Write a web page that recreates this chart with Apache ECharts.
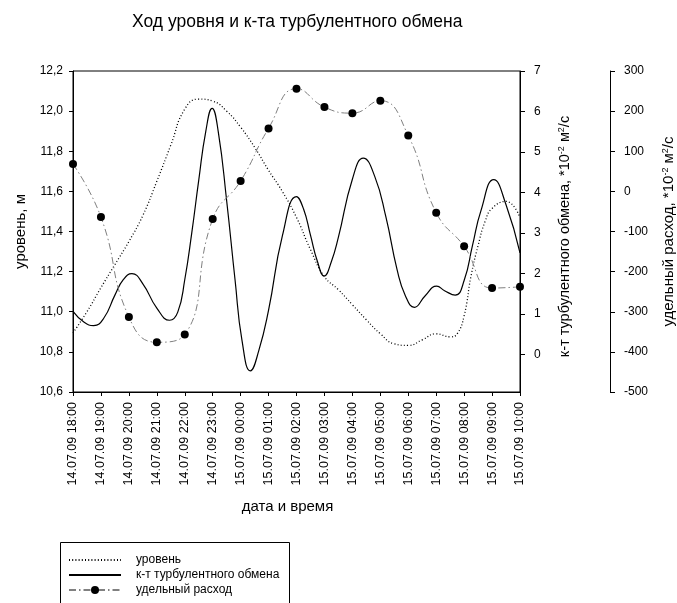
<!DOCTYPE html>
<html>
<head>
<meta charset="utf-8">
<script src="https://cdn.jsdelivr.net/npm/echarts@6.0.0/dist/echarts.min.js"></script>
<style>
  html, body { margin: 0; padding: 0; background: #fff; }
  #chart { width: 677px; height: 603px; }
</style>
</head>
<body>
<div id="chart"></div>
<script>
// Hourly time stamps shown along the horizontal axis
const timeLabels = [
  '14.07.09 18:00', '14.07.09 19:00', '14.07.09 20:00', '14.07.09 21:00',
  '14.07.09 22:00', '14.07.09 23:00', '15.07.09 00:00', '15.07.09 01:00',
  '15.07.09 02:00', '15.07.09 03:00', '15.07.09 04:00', '15.07.09 05:00',
  '15.07.09 06:00', '15.07.09 07:00', '15.07.09 08:00', '15.07.09 09:00',
  '15.07.09 10:00'
];

// Water level, m (hours counted from 14.07.09 18:00)
const levelHours = [0, 0.5, 1, 1.5, 2, 2.5, 3, 3.5, 4, 4.5, 5, 5.5, 6, 6.5, 7, 7.5,
  8, 8.5, 9, 9.5, 10, 10.5, 11, 11.5, 12, 12.5, 13, 13.5, 13.75, 14, 14.25, 14.5,
  14.75, 15, 15.5, 16];
const levelValues = [10.895, 11.0, 11.12, 11.235, 11.35, 11.48, 11.65, 11.83, 12.01,
  12.06, 12.05, 12.0, 11.92, 11.82, 11.705, 11.598, 11.47, 11.31, 11.175, 11.11,
  11.035, 10.96, 10.89, 10.84, 10.832, 10.86, 10.89, 10.875, 10.89, 10.98, 11.18,
  11.33, 11.45, 11.515, 11.55, 11.47];

// Turbulent exchange coefficient, *10^-2 m2/s
const ktHours = [0, 0.4, 0.74, 1.1, 1.5, 1.8, 2.11, 2.5, 3.0, 3.46, 3.75, 4.0, 4.25,
  4.5, 4.75, 4.98, 5.2, 5.5, 5.8, 6.05, 6.35, 6.65, 7.0, 7.5, 8.0, 8.25, 8.5, 8.75,
  8.99, 9.25, 9.5, 10.0, 10.39, 10.8, 11.2, 11.6, 11.9, 12.22, 12.6, 13.02, 13.3,
  13.68, 14.0, 14.3, 14.6, 15.06, 15.5, 16.0];
const ktValues = [1.07, 0.8, 0.72, 0.9, 1.47, 1.85, 2.0, 1.75, 1.15, 0.85, 1.05, 1.85,
  3.0, 4.3, 5.5, 6.08, 5.5, 3.8, 1.85, 0.35, -0.4, 0.1, 1.1, 2.95, 3.9, 3.6, 2.95,
  2.3, 1.94, 2.3, 2.9, 4.33, 4.85, 4.4, 3.4, 2.1, 1.45, 1.17, 1.45, 1.69, 1.58, 1.47,
  1.83, 2.7, 3.55, 4.32, 3.7, 2.51];

// Specific discharge, *10^-2 m2/s (hourly)
const flowHours = [0, 1, 2, 3, 4, 5, 6, 7, 8, 9, 10, 11, 12, 13, 14, 15, 16];
const flowValues = [68, -64, -313, -376, -357, -69, 26, 157, 256, 210, 195, 226,
  139, -53, -137, -241, -238];

// Labelled ticks of the exchange coefficient axis
const ktTicks = [0, 1, 2, 3, 4, 5, 6, 7];

const FONT = '"Liberation Sans", Arial, Helvetica, sans-serif';
const sup = { fontSize: 9, fontFamily: FONT, color: '#000', verticalAlign: 'top', lineHeight: 10 };

const pairs = (xs, ys) => xs.map((x, i) => [x, ys[i]]);

const chart = echarts.init(document.getElementById('chart'), null, { renderer: 'canvas' });

chart.setOption({
  animation: false,
  backgroundColor: '#fff',
  textStyle: { fontFamily: FONT, color: '#000' },
  title: {
    text: 'Ход уровня и к-та турбулентного обмена',
    left: 127,
    top: 8,
    textStyle: { fontSize: 17.5, fontWeight: 'normal', color: '#000', fontFamily: FONT }
  },
  grid: {
    left: 73, right: 157, top: 71, bottom: 211,
    show: true, borderColor: '#000', borderWidth: 1,
    containLabel: false, outerBoundsMode: 'none'
  },
  // frame around the legend, running off the bottom edge of the page
  graphic: [{
    type: 'rect',
    shape: { x: 60.5, y: 542.5, width: 229, height: 90 },
    style: { fill: 'none', stroke: '#000', lineWidth: 1 },
    silent: true
  }],
  legend: {
    orient: 'vertical',
    left: 60,
    top: 542,
    padding: [12, 10, 0, 8],
    itemGap: 3,
    itemWidth: 52,
    itemHeight: 10,
    textStyle: { fontSize: 12, color: '#000', fontFamily: FONT, padding: [0, 0, 0, 10] },
    data: [
      { name: 'уровень', itemStyle: { opacity: 0 } },
      { name: 'к-т турбулентного обмена', itemStyle: { opacity: 0 } },
      { name: 'удельный расход' }
    ]
  },
  xAxis: {
    type: 'value',
    min: 0, max: 16, interval: 1,
    name: 'дата и время',
    nameLocation: 'middle',
    nameGap: 107,
    nameTextStyle: { fontSize: 15, color: '#000', fontFamily: FONT, padding: [0, 18, 0, 0] },
    axisLine: { show: true, onZero: false, lineStyle: { color: '#000', width: 1 } },
    axisTick: { show: true, length: 4, lineStyle: { color: '#000' } },
    axisLabel: {
      rotate: 90, fontSize: 12.5, margin: 10, color: '#000', fontFamily: FONT,
      formatter: v => timeLabels[Math.round(v)] || ''
    },
    splitLine: { show: false }
  },
  yAxis: [
    {
      type: 'value',
      position: 'left',
      min: 10.6, max: 12.2, interval: 0.2,
      name: 'уровень, м',
      nameLocation: 'middle',
      nameRotate: 90,
      nameGap: 45,
      nameTextStyle: { fontSize: 15, color: '#000', fontFamily: FONT },
      axisLine: { show: true, lineStyle: { color: '#000' } },
      axisTick: { show: true, length: 4, lineStyle: { color: '#000' } },
      axisLabel: {
        fontSize: 12, margin: 10, color: '#000', fontFamily: FONT,
        formatter: v => v.toFixed(1).replace('.', ',')
      },
      splitLine: { show: false }
    },
    {
      type: 'value',
      position: 'right',
      min: -0.92, max: 7,
      name: 'к-т турбулентного обмена, *10{sup|-2} м{sup|2}/с',
      nameLocation: 'middle',
      nameRotate: 90,
      nameGap: 37,
      nameTextStyle: { fontSize: 14.5, color: '#000', fontFamily: FONT, padding: [0, 10, 0, 0], rich: { sup } },
      axisLine: { show: true, lineStyle: { color: '#000' } },
      axisTick: { show: true, length: 5, customValues: ktTicks, lineStyle: { color: '#000' } },
      axisLabel: {
        fontSize: 12, margin: 14, color: '#000', fontFamily: FONT,
        customValues: ktTicks
      },
      splitLine: { show: false }
    },
    {
      type: 'value',
      position: 'right',
      offset: 90,
      min: -500, max: 300, interval: 100,
      name: 'удельный расход, *10{sup|-2} м{sup|2}/с',
      nameLocation: 'middle',
      nameRotate: 90,
      nameGap: 51,
      nameTextStyle: { fontSize: 15, color: '#000', fontFamily: FONT, rich: { sup } },
      axisLine: { show: true, lineStyle: { color: '#000' } },
      axisTick: { show: true, length: 5, lineStyle: { color: '#000' } },
      axisLabel: { fontSize: 12, margin: 14, color: '#000', fontFamily: FONT },
      splitLine: { show: false }
    }
  ],
  series: [
    {
      name: 'уровень',
      type: 'line',
      yAxisIndex: 0,
      data: pairs(levelHours, levelValues),
      smooth: 0.5,
      symbol: 'none',
      lineStyle: { color: '#000', width: 1.3, type: [1, 2.2] },
      itemStyle: { color: '#000' }
    },
    {
      name: 'к-т турбулентного обмена',
      type: 'line',
      yAxisIndex: 1,
      data: pairs(ktHours, ktValues),
      smooth: 0.5,
      symbol: 'none',
      lineStyle: { color: '#000', width: 1.2 },
      itemStyle: { color: '#000' }
    },
    {
      name: 'удельный расход',
      type: 'line',
      yAxisIndex: 2,
      data: pairs(flowHours, flowValues),
      smooth: 0.5,
      symbol: 'circle',
      symbolSize: 8,
      itemStyle: { color: '#000' },
      lineStyle: { color: '#808080', width: 1, type: [7, 3, 1.5, 3] }
    }
  ]
});
</script>
</body>
</html>
